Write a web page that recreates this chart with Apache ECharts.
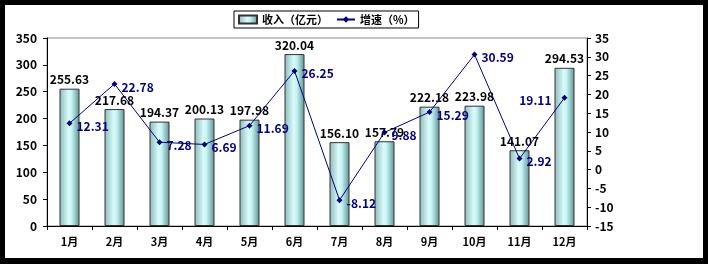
<!DOCTYPE html>
<html><head><meta charset="utf-8">
<script src="https://cdn.jsdelivr.net/npm/echarts@6/dist/echarts.min.js"></script>
<style>
html,body{margin:0;padding:0;background:#000;width:708px;height:264px;overflow:hidden}
#c{position:absolute;left:5px;top:5px;width:698px;height:253px;background:#fff}
</style></head><body><div id="c"></div>
<script>
const categories = ['1月','2月','3月','4月','5月','6月','7月','8月','9月','10月','11月','12月'];
const revenue = [255.63, 217.68, 194.37, 200.13, 197.98, 320.04, 156.10, 157.79, 222.18, 223.98, 141.07, 294.53];
const growth = [12.31, 22.78, 7.28, 6.69, 11.69, 26.25, -8.12, 9.88, 15.29, 30.59, 2.92, 19.11];
const leftTicks = {min: 0, max: 350, interval: 50};
const rightTicks = {min: -15, max: 35, interval: 5};

const FONT = "'Liberation Sans Narrow','Noto Sans CJK SC',sans-serif";
const chart = echarts.init(document.getElementById('c'));
const growthData = growth.map((v, i) => {
  const d = {value: v};
  if (i === 11) d.label = {position: 'left', distance: 10, offset: [0, 3]};
  return d;
});
chart.setOption({
  animation: false,
  textStyle: {fontFamily: FONT, fontWeight: 'bold'},
  legend: {
    left: 229, top: 6,
    itemWidth: 18, itemHeight: 8, itemGap: 8,
    padding: [3, 4],
    borderColor: '#000', borderWidth: 1,
    textStyle: {fontFamily: FONT, fontWeight: 'bold', fontSize: 11, color: '#000'},
    data: [{name: '收入（亿元）', icon: 'rect'}, {name: '增速（%）'}]
  },
  grid: {left: 42, right: 116, top: 33, bottom: 32, show: true, borderColor: '#888', borderWidth: 1},
  xAxis: {
    type: 'category', data: categories,
    axisLine: {lineStyle: {color: '#000'}},
    axisTick: {show: true, length: 4, lineStyle: {color: '#000'}},
    axisLabel: {color: '#000', fontSize: 11, fontWeight: 'bold', margin: 10, fontFamily: FONT}
  },
  yAxis: [{
    type: 'value', min: leftTicks.min, max: leftTicks.max, interval: leftTicks.interval,
    splitLine: {show: false},
    axisLine: {show: true, lineStyle: {color: '#000'}},
    axisTick: {show: true, length: 4, lineStyle: {color: '#000'}},
    axisLabel: {color: '#000', fontSize: 12, fontWeight: 'bold', margin: 10, fontFamily: FONT}
  }, {
    type: 'value', min: rightTicks.min, max: rightTicks.max, interval: rightTicks.interval,
    splitLine: {show: false},
    axisLine: {show: true, lineStyle: {color: '#000'}},
    axisTick: {show: true, length: 4, lineStyle: {color: '#000'}},
    axisLabel: {color: '#000', fontSize: 12, fontWeight: 'bold', margin: 8, align: 'left', fontFamily: FONT}
  }],
  series: [{
    name: '收入（亿元）', type: 'bar', data: revenue, barWidth: 20, yAxisIndex: 0,
    itemStyle: {
      borderColor: '#333', borderWidth: 1,
      color: new echarts.graphic.LinearGradient(0, 0, 1, 0, [
        {offset: 0, color: '#8fb9b9'},
        {offset: 0.45, color: '#d8fbfb'},
        {offset: 0.6, color: '#c8f4f4'},
        {offset: 1, color: '#5e9494'}
      ])
    },
    label: {show: true, position: 'top', color: '#000', fontSize: 12, fontWeight: 'bold', distance: 3,
      formatter: p => p.value.toFixed(2), fontFamily: FONT}
  }, {
    name: '增速（%）', type: 'line', data: growthData, yAxisIndex: 1,
    symbol: 'diamond', symbolSize: 6,
    lineStyle: {color: '#000080', width: 1},
    itemStyle: {color: '#000080'},
    label: {show: true, position: 'right', color: '#000080', fontSize: 12, fontWeight: 'bold', distance: 4,
      offset: [0, 3], formatter: p => p.value.toFixed(2), fontFamily: FONT}
  }]
});
</script></body></html>
